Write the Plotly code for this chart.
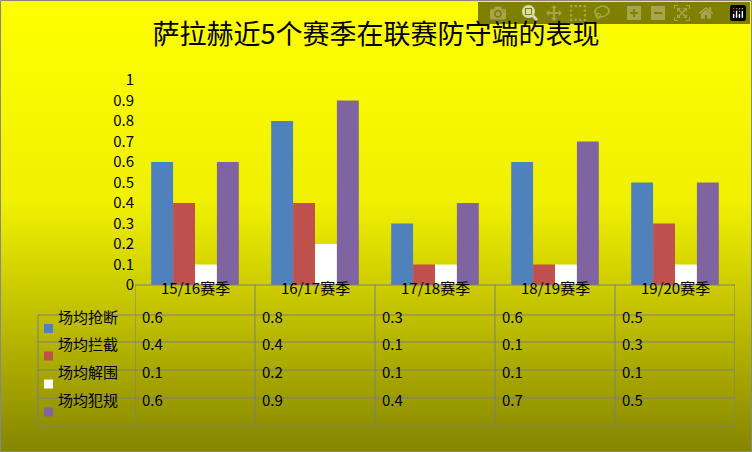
import plotly.graph_objects as go

categories = ["15/16赛季", "16/17赛季", "17/18赛季", "18/19赛季", "19/20赛季"]
series_names = ["场均抢断", "场均拦截", "场均解围", "场均犯规"]
steals = [0.6, 0.8, 0.3, 0.6, 0.5]
intercepts = [0.4, 0.4, 0.1, 0.1, 0.3]
clearances = [0.1, 0.2, 0.1, 0.1, 0.1]
fouls = [0.6, 0.9, 0.4, 0.7, 0.5]
series_values = [steals, intercepts, clearances, fouls]
colors = ["#4f81bd", "#c0504d", "#ffffff", "#8064a2"]
y_ticks = [0, 0.1, 0.2, 0.3, 0.4, 0.5, 0.6, 0.7, 0.8, 0.9, 1]

W, H = 752, 452
L, R, T, B = 135, 17, 80, 167
PH = H - T - B  # 205
FONT = "Noto Sans CJK SC"

def py(px):  # pixel y -> paper y
    return -(px - (H - B)) / PH

def pxx(px):
    return (px - L) / (W - L - R)

fig = go.Figure()
xs = list(range(len(categories)))
for name, vals, c in zip(series_names, series_values, colors):
    fig.add_trace(go.Bar(x=xs, y=vals, name=name, marker=dict(color=c, line=dict(width=0)), showlegend=False))

svg = ("data:image/svg+xml;utf8,<svg xmlns='http://www.w3.org/2000/svg' width='752' height='452'>"
       "<defs><linearGradient id='g' x1='0' y1='0' x2='0' y2='1'>"
       "<stop offset='0' stop-color='%23ffff00'/><stop offset='0.45' stop-color='%23f0f000'/>"
       "<stop offset='1' stop-color='%23858500'/></linearGradient></defs>"
       "<rect width='752' height='452' fill='url(%23g)'/></svg>")

shapes = []
annotations = []
row_edges = [285, 315, 342, 370, 398, 426]
left_px = 38
for ry in row_edges:
    x0 = pxx(left_px) if ry != 285 else 0
    shapes.append(dict(type="line", xref="paper", yref="paper", x0=x0, x1=1, y0=py(ry), y1=py(ry), line=dict(color="#7f7f7f", width=1)))
for i in range(len(categories) + 1):
    shapes.append(dict(type="line", xref="x", yref="paper", x0=i - 0.5, x1=i - 0.5, y0=py(285), y1=py(426), line=dict(color="#7f7f7f", width=1)))
shapes.append(dict(type="line", xref="paper", yref="paper", x0=pxx(left_px), x1=pxx(left_px), y0=py(315), y1=py(426), line=dict(color="#7f7f7f", width=1)))
shapes.append(dict(type="rect", xref="paper", yref="paper", x0=pxx(0.5), x1=pxx(751.5), y0=py(0.5), y1=py(451.5), line=dict(color="#888888", width=1)))

for i, c in enumerate(categories):
    annotations.append(dict(x=i, y=py(300), xref="x", yref="paper", text=c, showarrow=False, font=dict(family=FONT, size=15, color="#000")))
for r, (name, vals, col) in enumerate(zip(series_names, series_values, colors)):
    cy = (row_edges[r + 1] + row_edges[r + 2]) / 2
    shapes.append(dict(type="rect", xref="paper", yref="paper", x0=pxx(44), x1=pxx(53), y0=py(cy - 4.5), y1=py(cy + 4.5), fillcolor=col, line=dict(width=0)))
    annotations.append(dict(x=pxx(56), y=py(cy), xref="paper", yref="paper", xanchor="left", text=name, showarrow=False, font=dict(family=FONT, size=15, color="#000")))
    for i, v in enumerate(vals):
        annotations.append(dict(x=i - 0.5 + 5 / 120, y=py(cy), xref="x", yref="paper", xanchor="left", text=str(v), showarrow=False, font=dict(family=FONT, size=15, color="#000")))

fig.update_layout(
    width=W, height=H, margin=dict(l=L, r=R, t=T, b=B),
    paper_bgcolor="rgba(0,0,0,0)", plot_bgcolor="rgba(0,0,0,0)",
    images=[dict(source=svg, xref="paper", yref="paper", x=pxx(0), y=py(0), sizex=pxx(W) - pxx(0), sizey=py(0) - py(H), xanchor="left", yanchor="top", sizing="stretch", layer="below")],
    title=dict(text="萨拉赫近5个赛季在联赛防守端的表现", x=0.5, xref="container", xanchor="center", y=1 - 35 / H, yanchor="middle",
               font=dict(family=FONT, size=27, color="#000")),
    barmode="group", bargap=0.27, bargroupgap=0,
    xaxis=dict(range=[-0.5, 4.5], showticklabels=False, showgrid=False, zeroline=False, showline=False, fixedrange=True),
    yaxis=dict(range=[0, 1], tickvals=y_ticks, ticktext=[f"{v:g}" for v in y_ticks], showgrid=False, zeroline=False,
               showline=False, ticks="", tickfont=dict(family=FONT, size=15, color="#000")),
    shapes=shapes, annotations=annotations,
)
fig.write_html("out.html", post_script="document.body.style.margin='0';document.body.style.overflow='hidden';")
